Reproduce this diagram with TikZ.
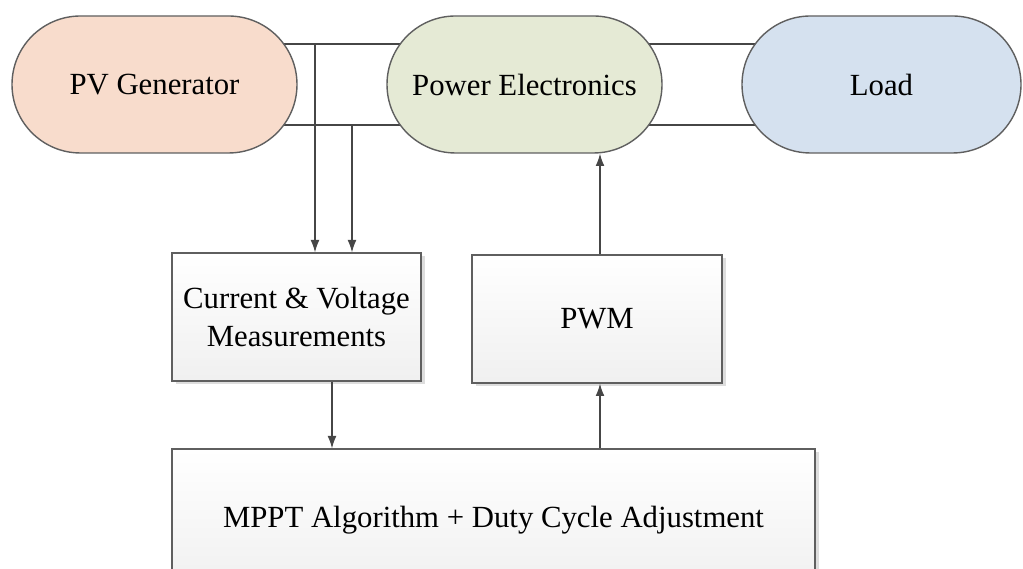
\documentclass[tikz,border=0pt]{standalone}
\usepackage{fontspec}
\setmainfont{Liberation Serif}
\usepackage{tikz}
\usetikzlibrary{shapes.misc,arrows.meta,positioning,backgrounds,shadows}
\usepackage{xcolor}
\definecolor{cPeach}{RGB}{248,220,204}
\definecolor{cSage}{RGB}{229,234,213}
\definecolor{cSky}{RGB}{213,225,239}
\definecolor{cEdge}{RGB}{95,95,95}
\definecolor{cLine}{RGB}{70,70,70}
\tikzset{
  basebox/.style={draw=cEdge,line width=0.8pt,align=center,
                  font=\rmfamily\fontsize{17.5}{22}\selectfont},
  pillnode/.style={basebox,rounded rectangle,minimum width=5.6cm,
                   minimum height=2.74cm,inner sep=0pt},
  pvnode/.style={pillnode,fill=cPeach,minimum width=5.7cm},
  penode/.style={pillnode,fill=cSage,minimum width=5.5cm},
  loadnode/.style={pillnode,fill=cSky,minimum width=5.58cm},
  blockbox/.style={basebox,rectangle,top color=white,bottom color=gray!12,
                   drop shadow={shadow xshift=0.07cm,shadow yshift=-0.07cm,
                                fill=gray!45,opacity=0.6},
                   minimum height=2.56cm,inner sep=0pt},
  busline/.style={line width=1.3pt,color=cLine},
  arr/.style={-{Latex[length=7pt,width=5pt]},line width=0.6pt,color=cLine}
}
\begin{document}
\begin{tikzpicture}
  \useasboundingbox (0,0) rectangle (20.46,11.38);
  \clip (0,0) rectangle (20.46,11.38);

  % source, converter, load
  \node[pvnode] (pv) at (3.09,9.69) {PV Generator};
  \node[penode] (pe) at (10.49,9.69) {Power Electronics};
  \node[loadnode] (load) at (17.63,9.69) {Load};

  % control blocks
  \node[blockbox,minimum width=4.98cm] (meas) at (5.93,5.04)
      {Current \& Voltage\\Measurements};
  \node[blockbox,minimum width=5.0cm] (pwm) at (11.94,5.0) {PWM};
  \node[blockbox,minimum width=12.86cm,minimum height=2.84cm] (mppt)
      at (9.87,0.98) {MPPT Algorithm + Duty Cycle Adjustment};

  % power bus behind the pills
  \begin{scope}[on background layer]
    \draw[busline] ([yshift=0.81cm]pv.center) -- ([yshift=0.81cm]load.center);
    \draw[busline] ([yshift=-0.81cm]pv.center) -- ([yshift=-0.81cm]load.center);
  \end{scope}
  \coordinate (tapV) at (6.3,10.5);
  \coordinate (tapI) at (7.04,8.88);

  \draw[arr] (tapV) -- (tapV |- meas.north);
  \draw[arr] (tapI) -- (tapI |- meas.north);
  \draw[arr] ([xshift=0.71cm]meas.south) -- ([xshift=0.71cm]meas.south |- mppt.north);
  \draw[arr] ([xshift=0.06cm]pwm.south |- mppt.north) -- ([xshift=0.06cm]pwm.south);
  \draw[arr] ([xshift=0.06cm]pwm.north) -- ([xshift=0.06cm]pwm.north |- pe.south);

\end{tikzpicture}
\end{document}
